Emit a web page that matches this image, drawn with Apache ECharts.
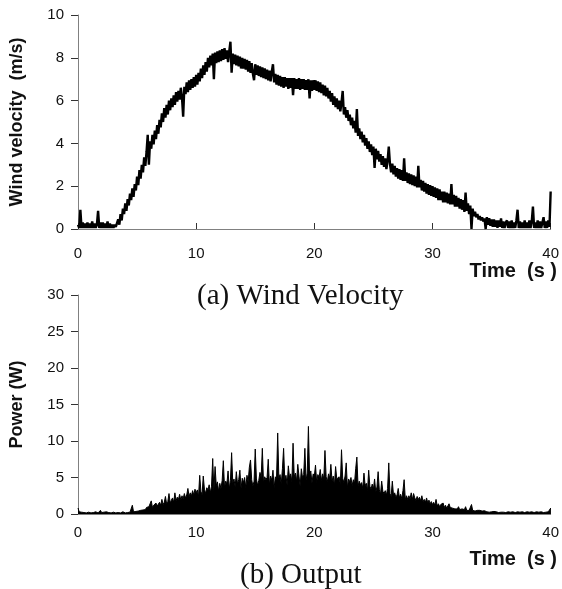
<!DOCTYPE html>
<html>
<head>
<meta charset="utf-8">
<script src="https://cdn.jsdelivr.net/npm/echarts@6/dist/echarts.min.js"></script>
<style>
html,body{margin:0;padding:0;background:#fff;}
#chart{width:562px;height:589px;}
</style>
</head>
<body>
<div id="chart"></div>
<script>
// sample step (s)
const dt = 0.1;
const timeTicks = [0, 10, 20, 30, 40];
const windTicks = [0, 2, 4, 6, 8, 10];
const powerTicks = [0, 5, 10, 15, 20, 25, 30];

// Wind velocity (m/s), one row per second, sampled every 0.1 s
const windVelocity = [
0.2,0.05,0.9,0.05,0.3,0.05,0.25,0.05,0.3,0.05,
0.25,0.05,0.35,0.05,0.25,0.05,0.2,0.85,0.05,0.3,
0.05,0.3,0.05,0.25,0.05,0.35,0.05,0.25,0.05,0.2,
0.05,0.2,0.1,0.05,0.45,0.2,0.7,0.4,0.95,0.7,
1.2,0.85,1.4,1.1,1.65,1.35,1.9,1.5,2.1,1.8,
2.45,2.05,2.75,2.35,3.0,2.65,3.35,2.95,3.6,4.4,
3.0,4.1,3.75,4.4,3.95,4.6,4.2,4.85,4.45,5.1,
4.75,5.4,5.0,5.65,5.2,5.8,5.35,6.0,5.55,6.1,
5.7,6.25,5.8,6.4,5.95,6.45,6.05,6.6,6.15,5.25,
6.65,6.3,6.85,6.4,6.95,6.5,7.0,6.6,7.1,6.65,
7.2,6.75,7.3,6.9,7.5,7.05,7.65,7.2,7.8,7.35,
8.0,7.55,8.1,7.65,8.2,7.0,8.25,7.75,8.3,7.8,
8.35,7.85,8.4,7.9,8.45,7.95,8.35,7.8,8.3,8.75,
7.3,8.2,7.7,8.15,7.65,8.1,7.6,8.05,7.5,8.0,
7.5,7.95,7.45,7.9,7.35,7.85,7.3,7.75,7.25,6.95,
7.7,7.2,7.65,7.15,7.6,7.1,7.55,7.05,7.5,7.0,
7.45,6.95,7.4,6.9,7.35,7.7,6.85,7.25,6.75,7.2,
6.7,7.15,6.65,7.1,6.6,7.1,6.65,7.05,6.55,7.05,
6.6,7.05,6.25,7.05,6.55,7.0,6.55,7.05,6.5,7.0,
6.55,7.0,6.5,6.95,6.5,7.0,6.1,6.95,6.45,6.95,
6.5,6.95,6.45,6.9,6.4,6.85,6.35,6.75,6.25,6.7,
6.2,6.6,6.1,6.45,5.95,6.35,5.8,6.2,5.7,6.1,
5.6,6.0,5.5,5.9,6.45,5.35,5.7,5.2,5.55,5.05,
5.35,4.85,5.2,4.7,5.05,4.5,5.6,4.35,4.7,4.2,
4.55,4.05,4.4,3.9,4.25,3.75,4.1,3.6,3.95,3.45,
3.85,2.85,3.75,3.25,3.65,3.15,3.5,3.0,3.4,2.9,
3.3,2.8,3.2,3.85,3.05,2.65,3.05,2.55,2.95,2.45,
2.85,2.35,2.8,2.3,2.75,2.25,3.3,2.25,2.65,2.15,
2.6,2.1,2.55,2.05,2.5,2.0,2.45,1.95,2.95,1.95,
2.3,1.8,2.25,1.75,2.15,1.65,2.1,1.6,2.05,1.55,
2.0,1.5,1.95,1.45,1.9,1.35,1.85,1.35,1.75,1.25,
1.75,1.25,1.7,1.2,1.65,1.15,2.1,1.15,1.6,1.05,
1.55,1.05,1.45,0.95,1.4,0.9,1.35,0.8,1.7,0.85,
1.2,0.7,1.1,0.0,0.95,0.6,0.8,0.55,0.7,0.45,
0.6,0.4,0.55,0.35,0.5,0.0,0.55,0.2,0.5,0.15,
0.45,0.1,0.45,0.1,0.4,0.05,0.4,0.1,0.5,0.05,
0.35,0.05,0.3,0.4,0.05,0.35,0.05,0.4,0.05,0.3,
0.05,0.4,0.9,0.05,0.35,0.05,0.3,0.05,0.4,0.05,
0.3,0.05,0.4,0.05,0.35,1.05,0.05,0.3,0.05,0.4,
0.05,0.35,0.05,0.3,0.55,0.05,0.35,0.05,0.4,0.1,
1.75
];

// Output power (W), one row per second, sampled every 0.1 s
const outputPower = [
0.8,0.3,0.2,0.25,0.15,0.2,0.3,0.15,0.2,0.25,
0.2,0.15,0.25,0.2,0.15,0.3,0.2,0.15,0.25,0.5,
0.2,0.15,0.25,0.2,0.3,0.15,0.2,0.25,0.15,0.2,
0.25,0.2,0.15,0.3,0.2,0.25,0.15,0.2,0.3,0.2,
0.15,0.25,0.2,0.3,0.25,0.35,1.2,0.3,0.4,0.35,
0.5,0.4,0.6,0.5,0.7,0.55,0.8,0.6,0.9,0.7,
1.0,0.8,1.8,0.9,1.2,1.0,1.5,1.1,1.3,1.6,
1.2,2.0,1.3,1.6,2.4,1.4,1.7,2.8,1.5,1.9,
2.2,1.6,2.9,1.8,2.3,2.0,2.7,1.9,2.5,2.1,
2.8,2.2,2.6,3.5,2.4,2.9,2.5,3.2,2.6,3.4,
2.9,3.3,2.4,5.3,3.1,2.6,5.2,3.4,2.8,3.6,
3.3,4.0,2.9,3.8,7.6,3.2,6.5,3.9,4.4,3.1,
4.2,3.5,4.6,7.3,3.6,4.5,4.1,5.9,3.4,4.6,
8.4,4.2,4.8,3.7,5.8,4.1,4.7,6.0,3.5,4.9,
4.3,5.0,3.6,5.3,4.4,6.4,7.4,4.7,3.8,4.5,
8.9,4.8,3.9,4.6,5.7,5.0,9.0,4.2,5.1,4.7,
5.0,7.5,4.0,5.2,4.6,6.0,3.6,5.1,4.8,11.1,
4.9,5.4,4.1,6.2,9.0,4.7,5.3,3.9,6.6,5.0,
5.5,4.4,9.7,5.1,5.6,4.5,6.8,5.2,3.8,6.2,
5.0,5.4,9.0,4.6,5.6,12.0,5.1,5.9,4.2,5.5,
5.2,6.7,4.3,5.4,5.0,6.1,4.6,5.5,4.8,8.7,
5.1,4.4,5.5,4.9,6.8,4.5,5.2,3.9,6.5,4.8,
4.7,5.1,4.0,8.8,4.9,4.3,5.2,7.0,3.6,4.8,
4.4,5.0,3.9,4.7,4.2,6.2,7.8,3.8,4.5,4.0,
4.3,3.5,5.6,3.9,4.2,3.2,6.0,3.8,3.4,4.1,
3.4,4.8,3.0,3.7,5.8,3.3,2.7,4.5,3.1,2.8,
3.2,2.6,3.5,7.0,2.8,2.4,4.5,2.6,2.9,2.3,
2.6,3.5,2.2,2.7,2.1,3.2,4.7,2.0,2.5,2.0,
2.5,2.1,2.9,2.0,2.8,2.2,1.9,2.4,2.0,2.3,
1.8,2.5,1.7,2.0,1.6,2.2,1.5,1.9,1.4,1.7,
1.3,1.6,1.2,2.0,1.1,1.4,1.0,1.3,1.1,1.5,
0.9,1.2,0.8,1.0,1.4,0.9,1.1,0.8,1.0,0.7,
0.9,0.7,1.0,0.6,0.8,0.7,0.9,0.6,1.0,0.5,
0.7,0.5,0.6,1.3,0.5,0.6,0.4,0.6,0.5,0.4,
0.5,0.35,0.4,0.3,0.45,0.35,0.3,0.4,0.25,0.35,
0.3,0.25,0.35,0.2,0.3,0.25,0.2,0.3,0.25,0.2,
0.25,0.3,0.2,0.25,0.3,0.2,0.25,0.2,0.3,0.25,
0.2,0.25,0.3,0.2,0.25,0.2,0.3,0.25,0.2,0.25,
0.3,0.2,0.25,0.2,0.3,0.25,0.2,0.25,0.3,0.2,
0.25,0.2,0.3,0.25,0.2,0.3,0.25,0.2,0.3,0.35,
0.8
];

const toPairs = arr => arr.map((v, i) => [Math.round(i * dt * 10) / 10, v]);

const sans = '"Liberation Sans", Arial, sans-serif';
const serif = '"Liberation Serif", "Times New Roman", serif';
const axisGray = '#808080';

function xAxisCfg(gridIndex, margin) {
  return {
    type: 'value', gridIndex, min: timeTicks[0], max: timeTicks[timeTicks.length - 1], interval: 10,
    axisLine: { show: true, lineStyle: { color: axisGray, width: 1 } },
    axisTick: { show: true, inside: true, length: 6, lineStyle: { color: '#333' } },
    axisLabel: { color: '#111', fontSize: 15, fontFamily: sans, margin },
    splitLine: { show: false }
  };
}
function yAxisCfg(gridIndex, max, interval, name, gap) {
  return {
    type: 'value', gridIndex, min: 0, max, interval,
    name, nameLocation: 'middle', nameGap: gap, nameRotate: 90,
    nameTextStyle: { color: '#111', fontSize: 18, fontWeight: 'bold', fontFamily: sans },
    axisLine: { show: true, lineStyle: { color: axisGray, width: 1 } },
    axisTick: { show: true, inside: false, length: 7, lineStyle: { color: '#333' } },
    axisLabel: { color: '#111', fontSize: 15, fontFamily: sans, margin: 14 },
    splitLine: { show: false }
  };
}

const chart = echarts.init(document.getElementById('chart'), null, { renderer: 'canvas' });
chart.setOption({
  animation: false,
  backgroundColor: '#fff',
  grid: [
    { left: 77, top: 15, width: 478, height: 214 },
    { left: 78, top: 295, width: 475, height: 219 }
  ],
  xAxis: [xAxisCfg(0, 17), xAxisCfg(1, 11)],
  yAxis: [
    yAxisCfg(0, windTicks[windTicks.length - 1], 2, 'Wind velocity  (m/s)', 52),
    yAxisCfg(1, powerTicks[powerTicks.length - 1], 5, 'Power (W)', 52)
  ],
  series: [
    {
      type: 'line', xAxisIndex: 0, yAxisIndex: 0, data: toPairs(windVelocity),
      showSymbol: false, symbol: 'none', lineStyle: { color: '#000', width: 2.4 }, z: 3
    },
    {
      type: 'line', xAxisIndex: 1, yAxisIndex: 1, data: toPairs(outputPower),
      showSymbol: false, symbol: 'none', lineStyle: { color: '#000', width: 1 },
      areaStyle: { color: '#000', opacity: 1 }, z: 3
    }
  ],
  graphic: [
    { type: 'text', right: 5, top: 261, style: { text: 'Time  (s )', font: 'bold 20px ' + sans, fill: '#111' } },
    { type: 'text', right: 5, top: 549, style: { text: 'Time  (s )', font: 'bold 20px ' + sans, fill: '#111' } },
    { type: 'text', left: 197, top: 282, style: { text: '(a) Wind Velocity', font: '29px ' + serif, fill: '#111' } },
    { type: 'text', left: 240, top: 561, style: { text: '(b) Output', font: '29px ' + serif, fill: '#111' } }
  ]
});
</script>
</body>
</html>
